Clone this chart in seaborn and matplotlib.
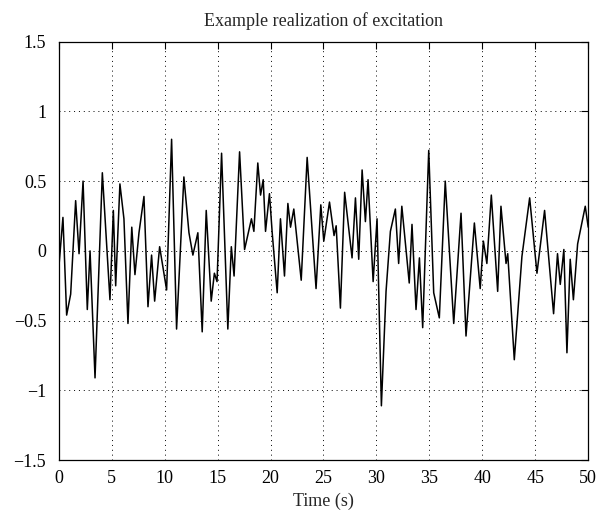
import matplotlib
matplotlib.use("Agg")
import matplotlib.pyplot as plt
import seaborn as sns
import pandas as pd

# turning points of the excitation signal
time_s = [0.0, 0.40, 0.75, 1.13, 1.60, 1.92, 2.30, 2.70, 2.96, 3.43,
          4.12, 4.84, 5.16, 5.38, 5.78, 6.16, 6.54, 6.90, 7.20, 7.58,
          8.05, 8.43, 8.77, 9.06, 9.53, 10.19, 10.66, 11.13, 11.82, 12.30,
          12.67, 13.14, 13.55, 13.93, 14.40, 14.70, 14.95, 15.38, 15.97, 16.30,
          16.56, 17.08, 17.55, 18.20, 18.43, 18.80, 19.06, 19.31, 19.53, 19.90,
          20.16, 20.63, 20.94, 21.32, 21.64, 21.89, 22.20, 22.90, 23.46, 24.30,
          24.75, 25.03, 25.57, 26.00, 26.20, 26.60, 27.00, 27.70, 28.02, 28.33,
          28.65, 28.96, 29.21, 29.69, 30.06, 30.47, 30.91, 31.32, 31.79, 32.10,
          32.40, 33.10, 33.36, 33.74, 34.06, 34.37, 34.94, 35.41, 35.94, 36.50,
          37.30, 37.99, 38.46, 39.25, 39.80, 40.10, 40.43, 40.85, 41.45, 41.76,
          42.24, 42.40, 43.02, 43.74, 44.47, 45.16, 45.88, 46.73, 47.10, 47.36,
          47.70, 47.99, 48.30, 48.60, 49.00, 49.72, 50.0]
signal = [-0.13, 0.24, -0.46, -0.31, 0.36, -0.02, 0.50, -0.42, 0.00, -0.91,
          0.56, -0.35, 0.29, -0.25, 0.48, 0.23, -0.52, 0.17, -0.17, 0.13,
          0.39, -0.40, -0.03, -0.36, 0.03, -0.28, 0.80, -0.56, 0.53, 0.13,
          -0.03, 0.13, -0.58, 0.29, -0.36, -0.16, -0.22, 0.70, -0.56, 0.03,
          -0.18, 0.71, 0.01, 0.23, 0.14, 0.63, 0.40, 0.51, 0.14, 0.41,
          0.13, -0.30, 0.23, -0.18, 0.34, 0.17, 0.30, -0.21, 0.67, -0.27,
          0.33, 0.07, 0.35, 0.11, 0.18, -0.41, 0.42, -0.05, 0.38, -0.06,
          0.58, 0.21, 0.51, -0.22, 0.23, -1.11, -0.29, 0.14, 0.30, -0.09,
          0.32, -0.23, 0.19, -0.42, -0.05, -0.55, 0.72, -0.30, -0.48, 0.50,
          -0.52, 0.27, -0.61, 0.20, -0.27, 0.07, -0.09, 0.40, -0.29, 0.32,
          -0.09, -0.02, -0.78, -0.04, 0.38, -0.16, 0.29, -0.45, -0.02, -0.24,
          0.01, -0.73, -0.06, -0.35, 0.05, 0.32, 0.17]

x_ticks = [0, 5, 10, 15, 20, 25, 30, 35, 40, 45, 50]
y_ticks = [-1.5, -1, -0.5, 0, 0.5, 1, 1.5]
y_labels = ["\u22121.5", "\u22121", "\u22120.5", "0", "0.5", "1", "1.5"]

df = pd.DataFrame({"t": time_s, "u": signal})

sns.set_style("white")
plt.rcParams["font.family"] = ["Liberation Serif", "DejaVu Serif"]
plt.rcParams["font.size"] = 13

fig = plt.figure(figsize=(5.99, 5.20), dpi=100)
ax = fig.add_axes([0.098, 0.115, 0.884, 0.805])

sns.lineplot(data=df, x="t", y="u", ax=ax, color="black", linewidth=1.1,
             sort=False, estimator=None)

ax.set_xlim(0, 50)
ax.set_ylim(-1.5, 1.5)
ax.set_xticks(x_ticks)
ax.set_yticks(y_ticks)
ax.set_yticklabels(y_labels)
ax.grid(True, linestyle=(0, (1, 4)), color="black", linewidth=0.7)
ax.tick_params(direction="in", length=5, width=0.8, top=True, right=True,
               labelsize=13, colors="black")
ax.tick_params(axis="x", pad=7)
ax.tick_params(axis="y", pad=9)
for s in ax.spines.values():
    s.set_visible(True)
    s.set_color("black")
    s.set_linewidth(0.9)

ax.set_title("Example realization of excitation", fontsize=13, pad=11)
ax.set_xlabel("Time (s)", fontsize=13, labelpad=4)
ax.set_ylabel("")

fig.savefig("out.png", dpi=100, facecolor="white")
